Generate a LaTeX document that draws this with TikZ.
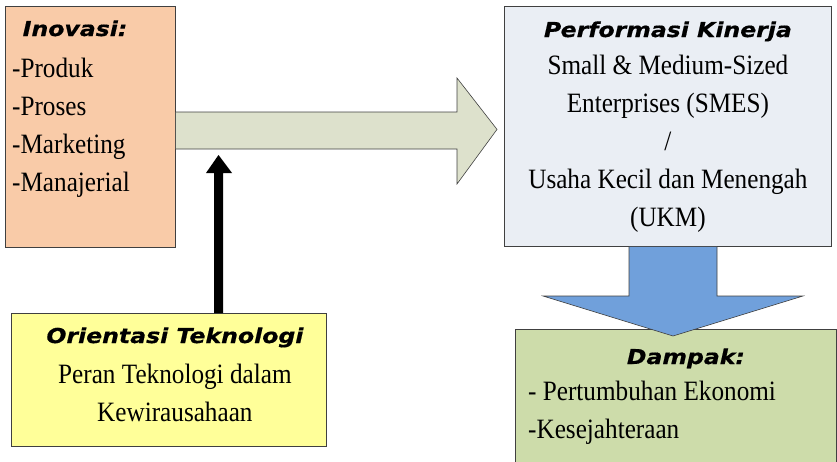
\documentclass[tikz,border=0pt]{standalone}
\usepackage{fontspec}
\setmainfont{Liberation Serif}[FakeStretch=0.9]
\newfontfamily\headfont{DejaVu Sans}[FakeStretch=1.15,FakeBold=0.6]
\usetikzlibrary{positioning,calc}
\usepackage{xcolor}
\definecolor{BoxLine}{RGB}{64,64,64}
\definecolor{Peach}{RGB}{249,203,168}
\definecolor{Sage}{RGB}{221,225,204}
\definecolor{Mist}{RGB}{234,238,244}
\definecolor{Sky}{RGB}{112,160,219}
\definecolor{Olive}{RGB}{205,220,170}
\definecolor{Lemon}{RGB}{255,255,153}
\tikzset{
  boxnode/.style={rectangle,draw=BoxLine,line width=0.8pt,anchor=north west,
                  inner sep=0pt},
  headtxt/.style={font=\headfont\bfseries\itshape\fontsize{20.5}{24}\selectfont,
                  inner sep=0pt,anchor=base},
  bodytxt/.style={font=\fontsize{28}{38}\selectfont,inner sep=0pt},
  blockarrow/.style={draw=BoxLine,line width=0.6pt,line join=miter},
}

\begin{document}
\begin{tikzpicture}[x=1pt,y=-1pt]
    \useasboundingbox (0,0) rectangle (837,461);
    % boxes
    \node[boxnode,fill=Peach,minimum width=170,minimum height=241] (inov) at (5,6) {};
    \node[boxnode,fill=Mist,minimum width=327,minimum height=240] (perf) at (504,6) {};
    \node[boxnode,fill=Lemon,minimum width=315,minimum height=133] (orient) at (11,313) {};
    \node[boxnode,fill=Olive,minimum width=321,minimum height=160] (dampak) at (515,329) {};

    % Inovasi (base = baseline of last line)
    \node[headtxt] (inovhead) at ($(inov.north west)+(70,30)$) {Inovasi:};
    \node[bodytxt,anchor=base west,align=left] (inovlist) at ($(inov.north west)+(7,185)$)
      {-Produk\\-Proses\\-Marketing\\-Manajerial};

    % Performasi
    \node[headtxt] (perfhead) at ($(perf.north)+(0,31)$) {Performasi Kinerja};
    \node[bodytxt,anchor=base,align=center] (perftext) at ($(perf.north)+(0,220)$)
      {Small \& Medium-Sized\\Enterprises (SMES)\\/\\Usaha Kecil dan Menengah\\(UKM)};

    % Orientasi
    \node[headtxt] (orienthead) at ($(orient.north)+(6,30)$) {Orientasi Teknologi};
    \node[bodytxt,anchor=base,align=center] (orienttext) at ($(orient.north)+(6,108)$)
      {Peran Teknologi dalam\\Kewirausahaan};

    % Dampak
    \node[headtxt] (dampakhead) at ($(dampak.north)+(10,35)$) {Dampak:};
    \node[bodytxt,anchor=base west,align=left] (dampaklist) at ($(dampak.north west)+(13,109)$)
      {- Pertumbuhan Ekonomi\\-Kesejahteraan};

    % inovasi -> performasi
    \coordinate (rtip) at ($(perf.west)+(-7,3)$);
    \draw[blockarrow,fill=Sage]
      (inov.east |- 0,112) -- (457,112) -- (457,78) -- (rtip)
      -- (457,184) -- (457,149) -- (inov.east |- 0,149);

    % teknologi -> arrow
    \coordinate (ttip) at (218.5,155);
    \draw[fill=black,draw=none]
      (214,0 |- orient.north) -- (214,173) -- (206,173) -- (ttip)
      -- (232,173) -- (223,173) -- (223,0 |- orient.north) -- cycle;

    % performasi -> dampak
    \coordinate (dtip) at (673,336);
    \draw[blockarrow,fill=Sky]
      (629,0 |- perf.south) -- (629,296) -- (543,296) -- (dtip)
      -- (803,296) -- (717,296) -- (717,0 |- perf.south);
\end{tikzpicture}
\end{document}
